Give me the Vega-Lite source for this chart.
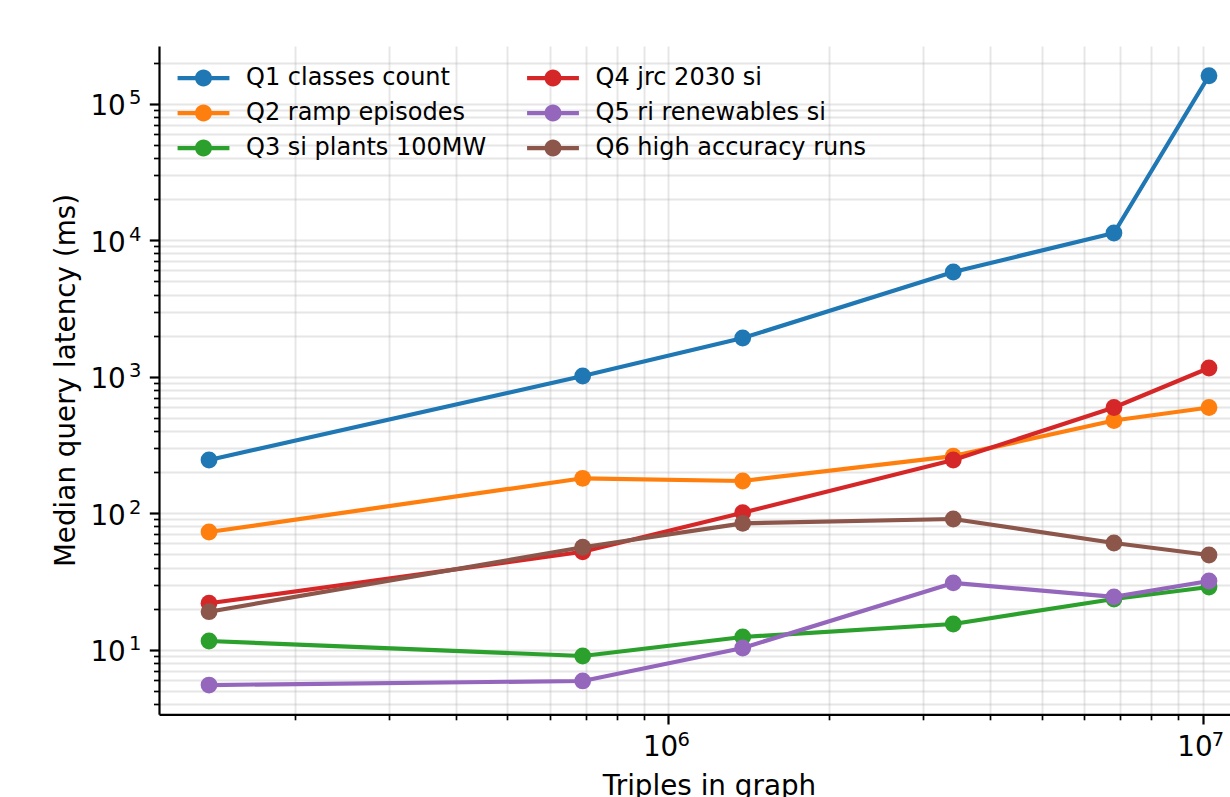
{
  "$schema": "https://vega.github.io/schema/vega-lite/v6.json",
  "width": 1071,
  "height": 668.3,
  "autosize": {"type": "none"},
  "padding": {"left": 159, "top": 46, "right": 0, "bottom": 82.7},
  "background": "white",
  "config": {
    "view": {"stroke": null},
    "font": "DejaVu Sans",
    "axis": {"labelFont": "DejaVu Sans", "titleFont": "DejaVu Sans", "labelColor": "black", "titleColor": "black"}
  },
  "data": {
    "values": [
      {"query": "Q1 classes count", "triples": 138200, "ms": 245.3},
      {"query": "Q1 classes count", "triples": 691500, "ms": 1012},
      {"query": "Q1 classes count", "triples": 1378000, "ms": 1921},
      {"query": "Q1 classes count", "triples": 3414000, "ms": 5848},
      {"query": "Q1 classes count", "triples": 6823000, "ms": 11290},
      {"query": "Q1 classes count", "triples": 10276000, "ms": 160300},
      {"query": "Q2 ramp episodes", "triples": 138200, "ms": 72.8},
      {"query": "Q2 ramp episodes", "triples": 691500, "ms": 180.2},
      {"query": "Q2 ramp episodes", "triples": 1378000, "ms": 172.2},
      {"query": "Q2 ramp episodes", "triples": 3414000, "ms": 262},
      {"query": "Q2 ramp episodes", "triples": 6823000, "ms": 477.7},
      {"query": "Q2 ramp episodes", "triples": 10276000, "ms": 594.9},
      {"query": "Q3 si plants 100MW", "triples": 138200, "ms": 11.58},
      {"query": "Q3 si plants 100MW", "triples": 691500, "ms": 8.99},
      {"query": "Q3 si plants 100MW", "triples": 1378000, "ms": 12.39},
      {"query": "Q3 si plants 100MW", "triples": 3414000, "ms": 15.43},
      {"query": "Q3 si plants 100MW", "triples": 6823000, "ms": 23.52},
      {"query": "Q3 si plants 100MW", "triples": 10276000, "ms": 28.8},
      {"query": "Q4 jrc 2030 si", "triples": 138200, "ms": 21.9},
      {"query": "Q4 jrc 2030 si", "triples": 691500, "ms": 52.2},
      {"query": "Q4 jrc 2030 si", "triples": 1378000, "ms": 100.9},
      {"query": "Q4 jrc 2030 si", "triples": 3414000, "ms": 245.3},
      {"query": "Q4 jrc 2030 si", "triples": 6823000, "ms": 594.9},
      {"query": "Q4 jrc 2030 si", "triples": 10276000, "ms": 1158},
      {"query": "Q5 ri renewables si", "triples": 138200, "ms": 5.51},
      {"query": "Q5 ri renewables si", "triples": 691500, "ms": 5.9},
      {"query": "Q5 ri renewables si", "triples": 1378000, "ms": 10.29},
      {"query": "Q5 ri renewables si", "triples": 3414000, "ms": 30.85},
      {"query": "Q5 ri renewables si", "triples": 6823000, "ms": 24.37},
      {"query": "Q5 ri renewables si", "triples": 10276000, "ms": 31.86},
      {"query": "Q6 high accuracy runs", "triples": 138200, "ms": 18.98},
      {"query": "Q6 high accuracy runs", "triples": 691500, "ms": 56.3},
      {"query": "Q6 high accuracy runs", "triples": 1378000, "ms": 84.3},
      {"query": "Q6 high accuracy runs", "triples": 3414000, "ms": 90.7},
      {"query": "Q6 high accuracy runs", "triples": 6823000, "ms": 60.5},
      {"query": "Q6 high accuracy runs", "triples": 10276000, "ms": 49.4}
    ]
  },
  "layer": [
    {
      "encoding": {
        "x": {
          "field": "triples", "type": "quantitative",
          "scale": {"type": "log", "domain": [111400, 11250000], "nice": false, "zero": false},
          "axis": {
            "orient": "bottom",
            "values": [200000, 300000, 400000, 500000, 600000, 700000, 800000, 900000, 1000000, 2000000, 3000000, 4000000, 5000000, 6000000, 7000000, 8000000, 9000000, 10000000],
            "labelExpr": "abs(log(datum.value)/LN10 - round(log(datum.value)/LN10)) < 0.0001 ? '10' : ''",
            "labelOverlap": false, "labelFlush": false, "labelBound": false,
            "labelFontSize": 27.8, "labelAlign": "right", "labelBaseline": "alphabetic",
            "labelOffset": 9.5, "labelPadding": 31.7,
            "tickSize": {"condition": {"test": "abs(log(datum.value)/LN10 - round(log(datum.value)/LN10)) < 0.0001", "value": 9.7}, "value": 5.5},
            "tickWidth": {"condition": {"test": "abs(log(datum.value)/LN10 - round(log(datum.value)/LN10)) < 0.0001", "value": 2.2}, "value": 1.7},
            "tickColor": "black", "domainColor": "black", "domainWidth": 2.2,
            "grid": true, "gridColor": "#b0b0b0", "gridOpacity": 0.32, "gridWidth": 1.9,
            "title": "Triples in graph", "titleFontSize": 27.8, "titleFontWeight": "normal",
            "titleX": 550, "titleY": 79.7, "titleAlign": "center", "titleBaseline": "alphabetic", "titleAngle": 0
          }
        },
        "y": {
          "field": "ms", "type": "quantitative",
          "scale": {"type": "log", "domain": [3.363, 264700], "nice": false, "zero": false},
          "axis": {
            "orient": "left",
            "values": [4, 5, 6, 7, 8, 9, 10, 20, 30, 40, 50, 60, 70, 80, 90, 100, 200, 300, 400, 500, 600, 700, 800, 900, 1000, 2000, 3000, 4000, 5000, 6000, 7000, 8000, 9000, 10000, 20000, 30000, 40000, 50000, 60000, 70000, 80000, 90000, 100000, 200000],
            "labelExpr": "abs(log(datum.value)/LN10 - round(log(datum.value)/LN10)) < 0.0001 ? '10' : ''",
            "labelOverlap": false, "labelFlush": false, "labelBound": false,
            "labelFontSize": 27.8, "labelAlign": "right", "labelBaseline": "alphabetic",
            "labelOffset": 10.8, "labelPadding": 24,
            "tickSize": {"condition": {"test": "abs(log(datum.value)/LN10 - round(log(datum.value)/LN10)) < 0.0001", "value": 9.7}, "value": 5.5},
            "tickWidth": {"condition": {"test": "abs(log(datum.value)/LN10 - round(log(datum.value)/LN10)) < 0.0001", "value": 2.2}, "value": 1.7},
            "tickColor": "black", "domainColor": "black", "domainWidth": 2.2,
            "grid": true, "gridColor": "#b0b0b0", "gridOpacity": 0.32, "gridWidth": 1.9,
            "title": "Median query latency (ms)", "titleFontSize": 27.8, "titleFontWeight": "normal",
            "titleX": -85, "titleY": 334, "titleAlign": "center", "titleBaseline": "alphabetic", "titleAngle": 270
          }
        },
        "color": {
          "field": "query", "type": "nominal",
          "scale": {
            "domain": ["Q1 classes count", "Q2 ramp episodes", "Q3 si plants 100MW", "Q4 jrc 2030 si", "Q5 ri renewables si", "Q6 high accuracy runs"],
            "range": ["#1f77b4", "#ff7f0e", "#2ca02c", "#d62728", "#9467bd", "#8c564b"]
          },
          "legend": {
            "orient": "none", "legendX": 18.5, "legendY": 20,
            "columns": 2, "title": null, "padding": 0,
            "symbolType": "M-3.05,-0.25H3.05V0.25H-3.05Z M-1,0A1,1,0,1,1,1,0A1,1,0,1,1,-1,0Z",
            "symbolSize": 289, "symbolStrokeWidth": 0, "symbolOpacity": 1,
            "labelFont": "DejaVu Sans", "labelFontSize": 24, "labelColor": "black", "labelLimit": 600,
            "symbolOffset": 14, "labelOffset": 30.5, "rowPadding": 11, "columnPadding": 40.5,
            "encode": {
              "symbols": {
                "update": {
                  "fill": {"scale": "color", "field": "value"},
                  "stroke": {"value": "transparent"},
                  "strokeWidth": {"value": 0},
                  "opacity": {"value": 1},
                  "shape": {"value": "M-3.05,-0.25H3.05V0.25H-3.05Z M-1,0A1,1,0,1,1,1,0A1,1,0,1,1,-1,0Z"}
                }
              }
            }
          }
        }
      },
      "layer": [
        {"transform": [{"filter": {"field": "query", "equal": "Q1 classes count"}}], "layer": [
          {"mark": {"type": "line", "strokeWidth": 4.2, "strokeJoin": "round"}},
          {"mark": {"type": "circle", "size": 282, "opacity": 1}}]},
        {"transform": [{"filter": {"field": "query", "equal": "Q2 ramp episodes"}}], "layer": [
          {"mark": {"type": "line", "strokeWidth": 4.2, "strokeJoin": "round"}},
          {"mark": {"type": "circle", "size": 282, "opacity": 1}}]},
        {"transform": [{"filter": {"field": "query", "equal": "Q3 si plants 100MW"}}], "layer": [
          {"mark": {"type": "line", "strokeWidth": 4.2, "strokeJoin": "round"}},
          {"mark": {"type": "circle", "size": 282, "opacity": 1}}]},
        {"transform": [{"filter": {"field": "query", "equal": "Q4 jrc 2030 si"}}], "layer": [
          {"mark": {"type": "line", "strokeWidth": 4.2, "strokeJoin": "round"}},
          {"mark": {"type": "circle", "size": 282, "opacity": 1}}]},
        {"transform": [{"filter": {"field": "query", "equal": "Q5 ri renewables si"}}], "layer": [
          {"mark": {"type": "line", "strokeWidth": 4.2, "strokeJoin": "round"}},
          {"mark": {"type": "circle", "size": 282, "opacity": 1}}]},
        {"transform": [{"filter": {"field": "query", "equal": "Q6 high accuracy runs"}}], "layer": [
          {"mark": {"type": "line", "strokeWidth": 4.2, "strokeJoin": "round"}},
          {"mark": {"type": "circle", "size": 282, "opacity": 1}}]}
      ]
    },
    {
      "mark": {"type": "point", "opacity": 0},
      "encoding": {
        "x": {
          "field": "triples", "type": "quantitative",
          "scale": {"type": "log", "domain": [111400, 11250000], "nice": false, "zero": false},
          "axis": {
            "orient": "bottom", "values": [1000000, 10000000],
            "labelExpr": "'' + round(log(datum.value)/LN10)",
            "ticks": false, "tickSize": 0, "domain": false, "grid": false, "title": null,
            "labelOverlap": false, "labelFlush": false, "labelBound": false,
            "labelFontSize": 19.5, "labelAlign": "left", "labelBaseline": "alphabetic",
            "labelOffset": 8.7, "labelPadding": 30.7
          }
        },
        "y": {
          "field": "ms", "type": "quantitative",
          "scale": {"type": "log", "domain": [3.363, 264700], "nice": false, "zero": false},
          "axis": {
            "orient": "left", "values": [10, 100, 1000, 10000, 100000],
            "labelExpr": "'' + round(log(datum.value)/LN10)",
            "ticks": false, "tickSize": 0, "domain": false, "grid": false, "title": null,
            "labelOverlap": false, "labelFlush": false, "labelBound": false,
            "labelFontSize": 19.5, "labelAlign": "right", "labelBaseline": "alphabetic",
            "labelOffset": 0, "labelPadding": 18
          }
        }
      }
    }
  ],
  "resolve": {"axis": {"x": "independent", "y": "independent"}}
}
